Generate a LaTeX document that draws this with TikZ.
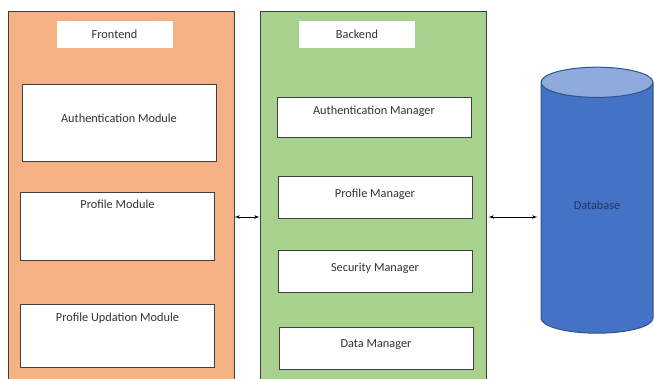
\documentclass[tikz,border=0pt]{standalone}
\usepackage{fontspec}
\setmainfont{Carlito}
\usepackage{tikz}
\usetikzlibrary{arrows,shapes.geometric}
\definecolor{frontfill}{HTML}{F4B183}
\definecolor{backfill}{HTML}{A9D18E}
\definecolor{dbbody}{HTML}{4472C4}
\definecolor{dbtop}{HTML}{8FAADC}
\definecolor{dbline}{HTML}{2F528F}
\definecolor{dbtext}{HTML}{1F3864}
\definecolor{linegray}{HTML}{404040}

\begin{document}
\begin{tikzpicture}[x=1pt,y=-1pt,>=latex',
        panel/.style={rectangle,draw=linegray,line width=1pt,minimum width=226pt,minimum height=412pt,inner sep=0pt},
        title/.style={rectangle,fill=white,minimum width=116pt,minimum height=27pt,inner sep=0pt},
        modbox/.style={rectangle,draw=linegray,line width=0.9pt,fill=white,minimum width=194pt,inner sep=0pt,anchor=north},
        database/.style={cylinder,shape border rotate=90,draw=dbline,line width=1pt,cylinder uses custom fill,
          cylinder body fill=dbbody,cylinder end fill=dbtop,minimum width=112pt,minimum height=266pt,aspect=0.65,
          inner sep=0pt,text=dbtext},
        font=\fontsize{12.3}{14}\selectfont,text=black!80]
      \useasboundingbox (0,0) rectangle (654,378);
      \clip (0,0) rectangle (654,378);
      \node [panel,fill=frontfill] (front) at (121,217) {};
      \node [panel,fill=backfill]  (back)  at (373,217) {};
      \node [title] (fronttitle) at (114.5,34.5) {Frontend};
      \node [title] (backtitle)  at (357,34.5)   {Backend};
      \node [modbox,text height=38pt,text depth=39pt] (authmod)    at (119,84)    {Authentication Module};
      \node [modbox,text height=16pt,text depth=52pt] (profmod)    at (117.5,192) {Profile Module};
      \node [modbox,text height=17pt,text depth=46pt] (updmod)     at (117.5,304) {Profile Updation Module};
      \node [modbox,text height=17pt,text depth=23pt] (authmgr)    at (374,97)    {Authentication Manager};
      \node [modbox,text height=21pt,text depth=21pt] (profmgr)    at (375,176)   {Profile Manager};
      \node [modbox,text height=21pt,text depth=21pt] (securmgr)   at (375,250)   {Security Manager};
      \node [modbox,text height=20pt,text depth=22pt] (datamgr)    at (376,327)   {Data Manager};
      \node [database,text depth=5pt] (db) at (597,208) {Database};
      \path[<->,line width=0.8pt]
      (front.east) edge (back.west)
      (back.east) edge [shorten <=2pt,shorten >=3pt] (back.east -| db.west);
    \end{tikzpicture}
\end{document}
